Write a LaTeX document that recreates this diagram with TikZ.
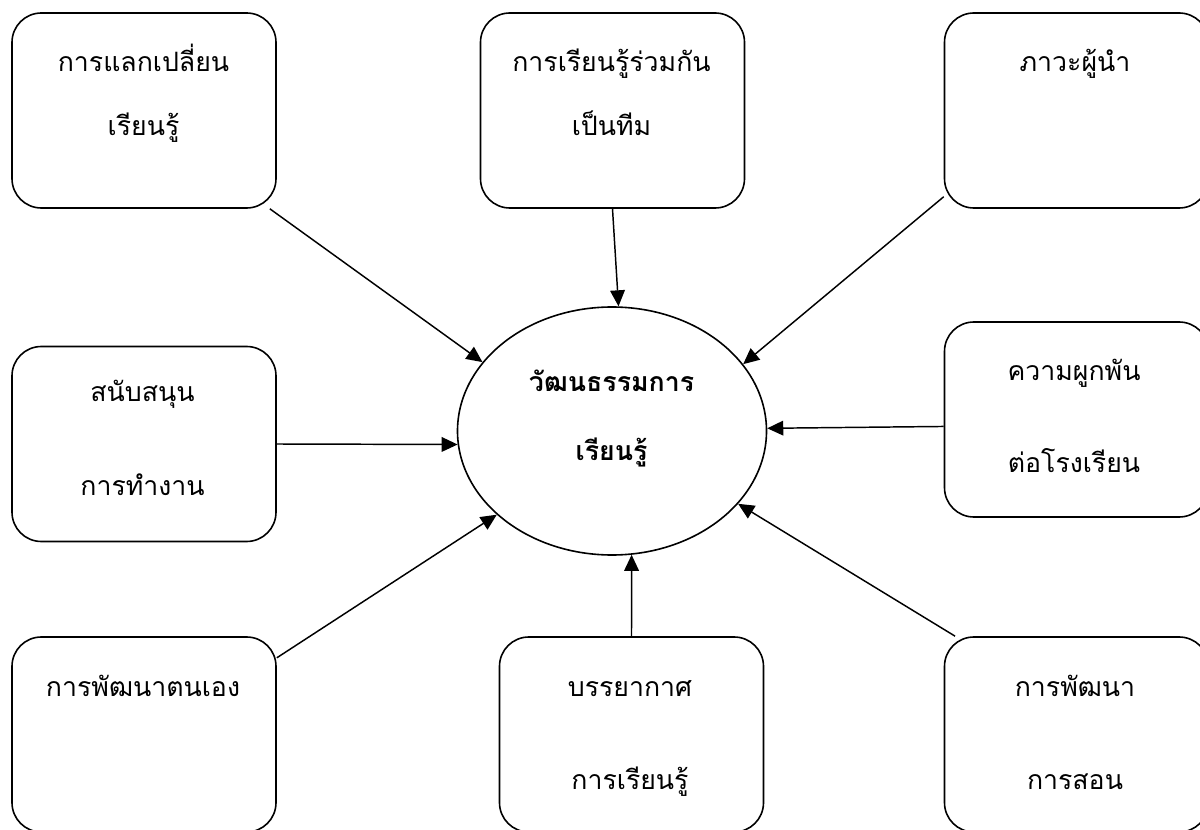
\documentclass[tikz,border=0pt]{standalone}
\usepackage{fontspec}
\newfontfamily\thai[Script=Thai]{Loma}
\usetikzlibrary{shapes.geometric,arrows.meta}
\begin{document}
\begin{tikzpicture}[x=0.75pt,y=-0.75pt,
  box/.style={draw,line width=1.2pt,rounded corners=22pt,minimum width=198pt,minimum height=146.25pt,inner sep=0pt},
  core/.style={draw,line width=1.2pt,ellipse,minimum width=231.75pt,minimum height=186pt,inner sep=0pt},
  lbl/.style={anchor=base,inner sep=0pt,font=\thai\fontsize{20}{24}\selectfont},
  blbl/.style={lbl,font=\thai\bfseries\fontsize{20}{24}\selectfont},
  conn/.style={line width=1.1pt,-{Triangle[length=12pt,width=11pt]}}]
\useasboundingbox (0,0) rectangle (1200,830);
\fill[white] (0,0) rectangle (1200,830);
% boxes
\node[box] (ex) at (144,110.5) {};
\node[box] (team) at (612.5,110.5) {};
\node[box] (lead) at (1076.5,110.5) {};
\node[box] (sup) at (144,444) {};
\node[box] (comm) at (1076.5,419.5) {};
\node[box] (self) at (144,734.5) {};
\node[box] (atm) at (631.5,734.5) {};
\node[box] (teach) at (1076.5,734.5) {};
\node[core] (cen) at (612,431) {};
% labels
\node[lbl] (ex1) at (143.5,72) {การแลกเปลี่ยน};
\node[lbl] (ex2) at (143.5,136) {เรียนรู้};
\node[lbl] (team1) at (611.5,72) {การเรียนรู้ร่วมกัน};
\node[lbl] (team2) at (611.5,136) {เป็นทีม};
\node[lbl] (lead1) at (1075,72) {ภาวะผู้นำ};
\node[lbl] (sup1) at (142.5,402) {สนับสนุน};
\node[lbl] (sup2) at (142.5,496) {การทำงาน};
\node[lbl] (comm1) at (1074,381) {ความผูกพัน};
\node[lbl] (comm2) at (1074,473) {ต่อโรงเรียน};
\node[lbl] (self1) at (143,696) {การพัฒนาตนเอง};
\node[lbl] (atm1) at (630,696) {บรรยากาศ};
\node[lbl] (atm2) at (630,789) {การเรียนรู้};
\node[lbl] (teach1) at (1075,696) {การพัฒนา};
\node[lbl] (teach2) at (1075,789) {การสอน};
\node[blbl] (cen1) at (611.5,392) {วัฒนธรรมการ};
\node[blbl] (cen2) at (611.5,460) {เรียนรู้};
% connectors
\draw[conn] (ex.-38.9) -- (cen.152);
\draw[conn] (team.south) -- (cen.87.2);
\draw[conn] (lead.213.3) -- (cen.27.8);
\draw[conn] (sup.east) -- (cen.185);
\draw[conn] (comm.183.7) -- (cen.1.1);
\draw[conn] (self.30.7) -- (cen.216.8);
\draw[conn] (atm.north) -- (cen.-81);
\draw[conn] (teach.141.3) -- (cen.-30.1);
\end{tikzpicture}
\end{document}
